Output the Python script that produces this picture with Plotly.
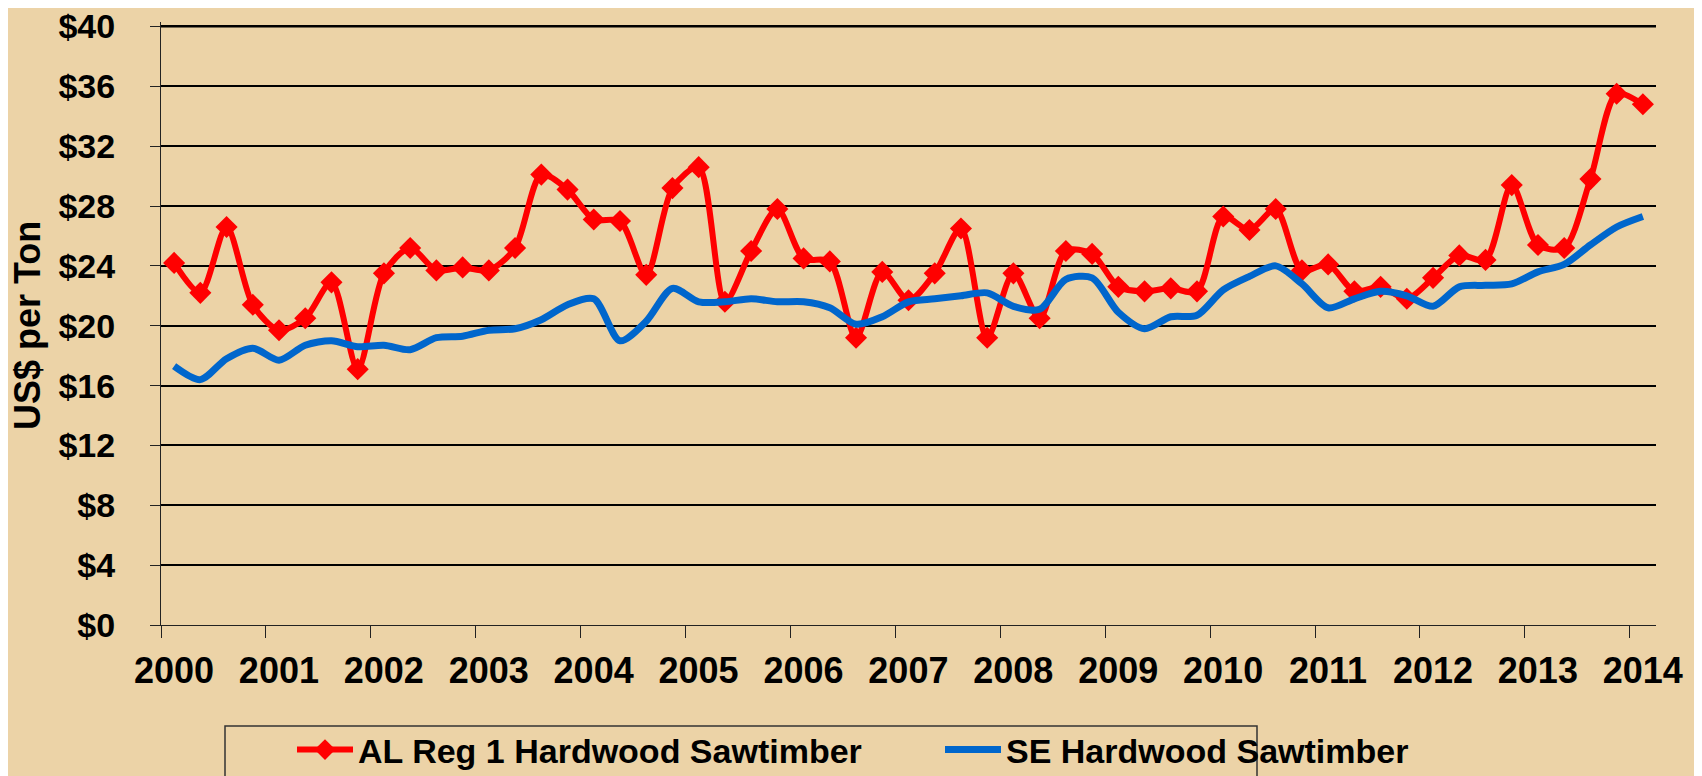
import plotly.graph_objects as go

# Quarterly data, 2000 Q1 .. 2014 Q1 (57 quarters)
years = [str(y) for y in range(2000, 2015)]
al_reg1_hardwood = [
    24.2, 22.2, 26.6, 21.4, 19.7, 20.5, 22.9, 17.1, 23.5, 25.2,
    23.7, 23.9, 23.7, 25.2, 30.1, 29.1, 27.1, 27.0, 23.4, 29.2,
    30.6, 21.6, 25.0, 27.8, 24.5, 24.3, 19.2, 23.6, 21.7, 23.5,
    26.5, 19.2, 23.5, 20.5, 25.0, 24.8, 22.6, 22.3, 22.5, 22.3,
    27.3, 26.4, 27.8, 23.7, 24.1, 22.3, 22.6, 21.8, 23.2, 24.7,
    24.4, 29.4, 25.4, 25.2, 29.8, 35.5, 34.8,
]
se_hardwood = [
    17.3, 16.4, 17.8, 18.5, 17.7, 18.7, 19.0, 18.6, 18.7, 18.4,
    19.2, 19.3, 19.7, 19.8, 20.4, 21.4, 21.8, 19.0, 20.3, 22.5,
    21.6, 21.6, 21.8, 21.6, 21.6, 21.2, 20.1, 20.6, 21.6, 21.8,
    22.0, 22.2, 21.3, 21.1, 23.1, 23.2, 20.9, 19.8, 20.6, 20.7,
    22.4, 23.3, 24.0, 22.8, 21.2, 21.8, 22.3, 22.0, 21.3, 22.6,
    22.7, 22.8, 23.6, 24.1, 25.4, 26.6, 27.3,
]
y_ticks = list(range(0, 41, 4))

quarters = list(range(len(al_reg1_hardwood)))
year_bounds = [4 * k - 0.5 for k in range(len(years))]
x_range = [-0.5, len(quarters) - 0.5]
y_range = [0, 40.3]

FONT = "Liberation Sans, Arial, sans-serif"
BG = "#ECD3A7"

fig = go.Figure()
fig.add_trace(go.Scatter(
    x=quarters, y=al_reg1_hardwood, name="AL Reg 1 Hardwood Sawtimber",
    mode="lines+markers",
    line=dict(color="#FF0000", width=6, shape="spline", smoothing=0.8),
    marker=dict(symbol="diamond", size=17, color="#FF0000"),
))
fig.add_trace(go.Scatter(
    x=quarters, y=se_hardwood, name="SE Hardwood Sawtimber",
    mode="lines",
    line=dict(color="#0066CC", width=7, shape="spline", smoothing=0.8),
))

# page has an 8px body margin; figure is sized to fill the rest of the window
OFF = 8
W, H = 1702 - OFF, 776 - OFF
PL, PR, PT, PB = 161, 1656, 22, 625          # plot area in page pixels
L, R, T, B = PL - OFF, OFF + W - PR, PT - OFF, OFF + H - PB
pw, ph = PR - PL, PB - PT


def px_x(p):
    return (p - PL) / pw


def px_y(p):
    return (PB - p) / ph


fig.update_layout(
    width=W, height=H,
    margin=dict(l=L, r=R, t=T, b=B, pad=0, autoexpand=False),
    paper_bgcolor=BG, plot_bgcolor=BG,
    font=dict(family=FONT, color="black"),
    showlegend=True,
    legend=dict(
        orientation="h", x=px_x(292), xanchor="left",
        y=px_y(750), yanchor="middle",
        font=dict(size=34, family=FONT, color="black", weight="bold"),
        bgcolor="rgba(0,0,0,0)", borderwidth=0,
        itemwidth=56, entrywidth=577, entrywidthmode="pixels",
        tracegroupgap=0,
    ),
    xaxis=dict(
        range=x_range, tickmode="array", tickvals=year_bounds, ticktext=years,
        ticks="outside", ticklen=12, tickwidth=1, tickcolor="#222",
        ticklabelshift=13, ticklabelstandoff=2, ticklabeloverflow="allow",
        showgrid=False, zeroline=False,
        showline=True, linecolor="#222", linewidth=1,
        tickfont=dict(size=36, family=FONT, color="black", weight="bold"),
    ),
    xaxis2=dict(
        range=x_range, overlaying="x", anchor="y", side="bottom",
        tickmode="array", tickvals=year_bounds, ticks="inside", ticklen=12,
        tickwidth=1, tickcolor="#222", showticklabels=False,
        showgrid=False, zeroline=False, showline=False,
    ),
    yaxis=dict(
        range=y_range, tickmode="array", tickvals=y_ticks,
        ticktext=["$" + str(v) for v in y_ticks],
        ticks="outside", ticklen=10, tickwidth=1, tickcolor="#222",
        ticklabelstandoff=28, ticklabeloverflow="allow",
        showgrid=True, gridcolor="black", gridwidth=2, zeroline=False,
        showline=True, linecolor="#222", linewidth=1,
        tickfont=dict(size=34, family=FONT, color="black", weight="bold"),
    ),
    annotations=[dict(
        text="US$ per Ton", textangle=-90, xref="paper", yref="paper",
        x=px_x(28), y=px_y(326), xanchor="center", yanchor="middle",
        showarrow=False,
        font=dict(size=36, family=FONT, color="black", weight="bold"),
    )],
    shapes=[
        dict(
            type="rect", xref="paper", yref="paper",
            x0=px_x(225), x1=px_x(1257), y0=px_y(800), y1=px_y(726),
            line=dict(color="#333", width=1.5), fillcolor="rgba(0,0,0,0)",
            layer="below",
        ),
        # top gridline at the last y tick
        dict(
            type="line", xref="x", yref="y",
            x0=x_range[0], x1=x_range[1], y0=y_ticks[-1], y1=y_ticks[-1],
            line=dict(color="black", width=2), layer="above",
        ),
    ],
)

fig.write_html("out.html")
